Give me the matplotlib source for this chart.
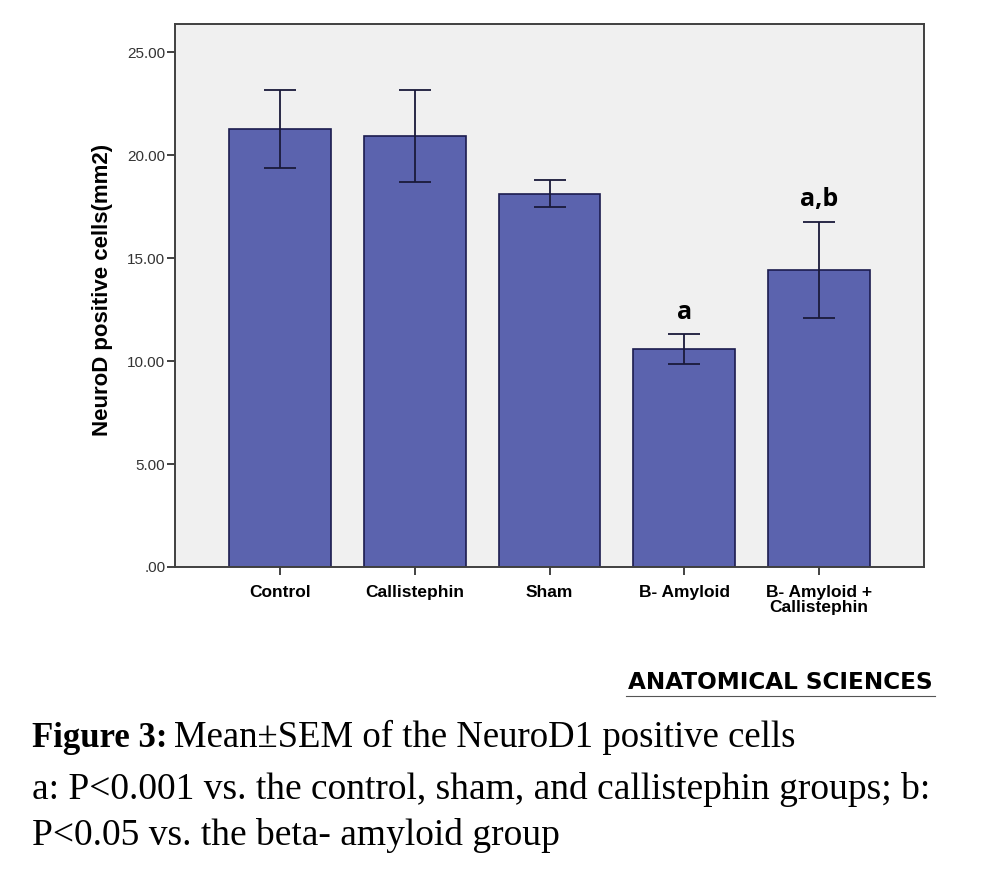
import matplotlib
matplotlib.use("Agg")
import matplotlib.pyplot as plt
import numpy as np

# datos (media y SEM)
grupos = ["Control", "Callistephin", "Sham", "B- Amyloid", "B- Amyloid +\nCallistephin"]
medias = [21.27, 20.92, 18.12, 10.57, 14.42]
sem = [1.90, 2.25, 0.66, 0.73, 2.35]
letras = ["", "", "", "a", "a,b"]
yticks = [0, 5, 10, 15, 20, 25]
ytick_labels = [".00", "5.00", "10.00", "15.00", "20.00", "25.00"]

W, H = 985, 884
fig = plt.figure(figsize=(W / 100, H / 100), dpi=100)
ax = fig.add_axes([175 / W, 1 - 567 / H, (924 - 175) / W, (567 - 24) / H])
ax.set_facecolor("#f0f0f0")

x = np.arange(len(grupos))
ax.bar(x, medias, width=0.755, color="#5b63ae", edgecolor="#1c1c4e", linewidth=1.2, zorder=2)
ax.errorbar(x, medias, yerr=sem, fmt="none", ecolor="#1a1a3a", elinewidth=1.3,
            capsize=11.5, capthick=1.3, zorder=3)

for xi, m, s, t in zip(x, medias, sem, letras):
    if t:
        ax.text(xi, m + s + 0.45, t, ha="center", va="bottom", fontsize=18,
                fontweight="bold", family="Open Sans", color="black")

ax.set_xlim(-0.78, 4.78)
ax.set_ylim(0, 26.36)
ax.set_xticks(x)
ax.set_xticklabels(grupos, fontsize=12.5, fontweight="bold", family="Liberation Sans",
                   linespacing=1.0)
ax.set_yticks(yticks)
ax.set_yticklabels(ytick_labels, fontsize=11, family="Liberation Sans", color="#333333")
ax.tick_params(axis="y", length=6, width=1.3, color="#333333", pad=1)
ax.tick_params(axis="x", length=6, width=1.3, color="#333333", pad=7)
for sp in ax.spines.values():
    sp.set_color("#404040")
    sp.set_linewidth(1.4)

fig.text(103 / W, 1 - 290 / H, "NeuroD positive cells(mm2)", rotation=90, ha="center",
         va="center", fontsize=16, fontweight="bold", family="Liberation Sans")

# logo de la revista
fig.text(628 / W, 1 - 689 / H, "ANATOMICAL SCIENCES", ha="left", va="baseline",
         fontsize=16.7, fontweight="bold", family="DejaVu Sans")
fig.add_artist(plt.Line2D([626 / W, 935 / W], [1 - 696 / H, 1 - 696 / H],
                          color="#555555", linewidth=0.8))

# pie de figura
t1 = fig.text(32 / W, 1 - 747 / H, "Figure 3:", ha="left", va="baseline", fontsize=25,
              fontweight="bold", family="Liberation Serif")
fig.canvas.draw()
bb = t1.get_window_extent()
fig.text((bb.x1 + 6) / W, 1 - 747 / H, "Mean\u00b1SEM of the NeuroD1 positive cells",
         ha="left", va="baseline", fontsize=26.5, family="Liberation Serif")
fig.text(32 / W, 1 - 799 / H, "a: P<0.001 vs. the control, sham, and callistephin groups; b:",
         ha="left", va="baseline", fontsize=27, family="Liberation Serif")
fig.text(32 / W, 1 - 845 / H, "P<0.05 vs. the beta- amyloid group",
         ha="left", va="baseline", fontsize=27, family="Liberation Serif")

fig.savefig("out.png", dpi=100)
